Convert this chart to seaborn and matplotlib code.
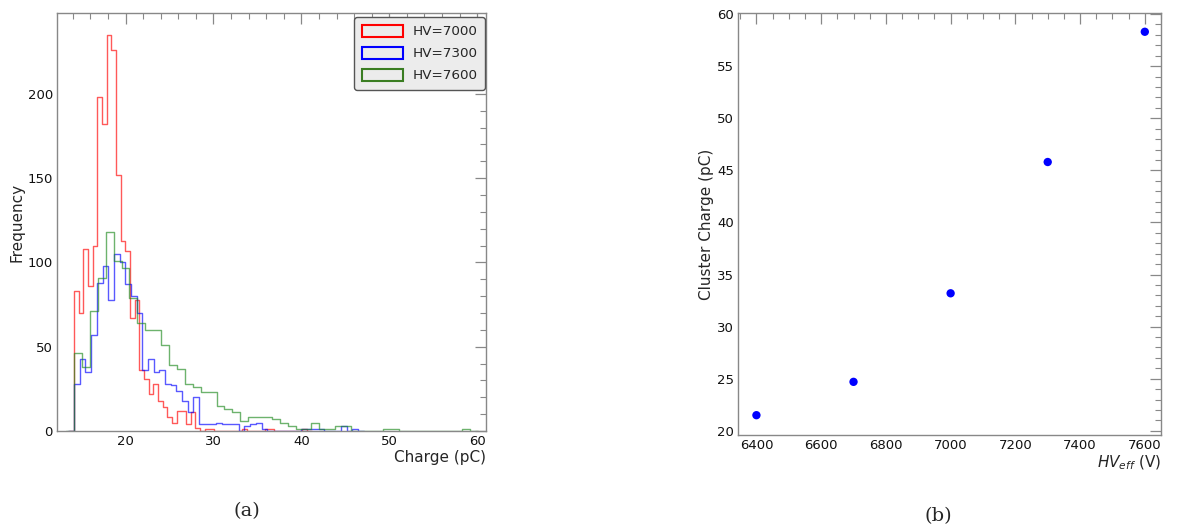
import numpy as np
import pandas as pd
import matplotlib
matplotlib.use("Agg")
import matplotlib.pyplot as plt
import seaborn as sns
from matplotlib.patches import Patch
from matplotlib.ticker import MultipleLocator

sns.set_theme(style="white")
plt.rcParams["font.family"] = ["DejaVu Sans"]

# ---------------- data ----------------
hv_labels = ["HV=7000", "HV=7300", "HV=7600"]
hist_colors = ["#ff0000", "#0000ff", "#1f8a1f"]
legend_colors = ["#ff0000", "#0000ff", "#3a7d22"]
charge_min = 14.15
charge_max = [40.65, 46.45, 59.15]

counts_7000 = [83, 70, 108, 86, 110, 198, 182, 235, 226, 152,
               113, 107, 67, 78, 36, 31, 22, 28, 18, 14,
               8, 5, 12, 12, 4, 11, 2, 0, 1, 1,
               0, 0, 0, 0, 0, 0, 1, 0, 0, 0,
               0, 1, 1, 0, 0, 0, 0, 0, 0, 1]
counts_7300 = [28, 43, 35, 57, 88, 98, 78, 105, 100, 87,
               80, 70, 36, 43, 35, 36, 28, 27, 24, 18,
               11, 20, 4, 4, 4, 5, 4, 4, 4, 0,
               3, 4, 5, 1, 0, 0, 0, 0, 0, 0,
               1, 1, 1, 1, 0, 0, 0, 3, 0, 1]
counts_7600 = [46, 38, 71, 91, 118, 101, 97, 79, 64, 60,
               60, 51, 39, 37, 28, 26, 23, 23, 15, 13,
               11, 6, 8, 8, 8, 7, 5, 3, 1, 1,
               5, 1, 1, 3, 3, 0, 0, 0, 0, 1,
               1, 0, 0, 0, 0, 0, 0, 0, 0, 1]
all_counts = [counts_7000, counts_7300, counts_7600]

hv_eff = [6400, 6700, 7000, 7300, 7600]
cluster_charge = [21.5, 24.7, 33.2, 45.8, 58.3]

# ---------------- figure ----------------
fig = plt.figure(figsize=(11.77, 5.27), dpi=100)
ax1 = fig.add_axes([0.0484, 0.1822, 0.3645, 0.7931])
ax2 = fig.add_axes([0.627, 0.1746, 0.3594, 0.8007])

spine_col = "#888888"
tick_fs = 9.5

for i, counts in enumerate(all_counts):
    edges = np.linspace(charge_min, charge_max[i], len(counts) + 1)
    width = edges[1] - edges[0]
    centers = 0.5 * (edges[:-1] + edges[1:])
    # one empty bin on each side so the outline drops to the baseline
    bins = [edges[0] - width] + edges.tolist() + [edges[-1] + width]
    df = pd.DataFrame({"charge": centers, "count": np.asarray(counts, float)})
    sns.histplot(data=df, x="charge", weights="count", bins=bins,
                 element="step", fill=False, color=hist_colors[i], alpha=0.65,
                 linewidth=1.0, ax=ax1)

ax1.set_xlim(12.2, 61.0)
ax1.set_ylim(0, 248)
ax1.xaxis.set_major_locator(MultipleLocator(10))
ax1.xaxis.set_minor_locator(MultipleLocator(2))
ax1.yaxis.set_major_locator(MultipleLocator(50))
ax1.yaxis.set_minor_locator(MultipleLocator(10))
ax1.set_xlabel("Charge (pC)", loc="right", fontsize=11, labelpad=1)
ax1.set_ylabel("Frequency", fontsize=11, labelpad=2)

handles = [Patch(facecolor="none", edgecolor=c, linewidth=1.5) for c in legend_colors]
leg = ax1.legend(handles, hv_labels, loc="upper right", bbox_to_anchor=(0.998, 0.99),
                 borderaxespad=0, fontsize=9.7, fancybox=True, framealpha=1,
                 handlelength=3.1, handleheight=1.0, borderpad=0.55,
                 labelspacing=0.62, handletextpad=0.7)
leg.get_frame().set_facecolor("#ececec")
leg.get_frame().set_edgecolor("#555555")
leg.get_frame().set_linewidth(1.0)

sns.scatterplot(x=hv_eff, y=cluster_charge, color="#0000ff", s=36,
                edgecolor="none", ax=ax2)
ax2.set_xlim(6343, 7650)
ax2.set_ylim(19.6, 60.1)
ax2.xaxis.set_major_locator(MultipleLocator(200))
ax2.xaxis.set_minor_locator(MultipleLocator(50))
ax2.yaxis.set_major_locator(MultipleLocator(5))
ax2.yaxis.set_minor_locator(MultipleLocator(1))
ax2.set_xlabel(r"$HV_{eff}$ (V)", loc="right", fontsize=11, labelpad=1)
ax2.set_ylabel("Cluster Charge (pC)", fontsize=11, labelpad=2)

for ax in (ax1, ax2):
    for sp in ax.spines.values():
        sp.set_color(spine_col)
        sp.set_linewidth(1.0)
    ax.tick_params(which="both", direction="in", top=True, right=True,
                   color=spine_col, labelsize=tick_fs, labelcolor="#111111")
    ax.tick_params(which="major", length=8, width=0.9, pad=3)
    ax.tick_params(which="minor", length=4, width=0.8)

fig.text(0.21, 0.03, "(a)", ha="center", va="center", fontsize=14,
         family="DejaVu Serif")
fig.text(0.797, 0.021, "(b)", ha="center", va="center", fontsize=14,
         family="DejaVu Serif")

fig.savefig("out.png", dpi=100)
